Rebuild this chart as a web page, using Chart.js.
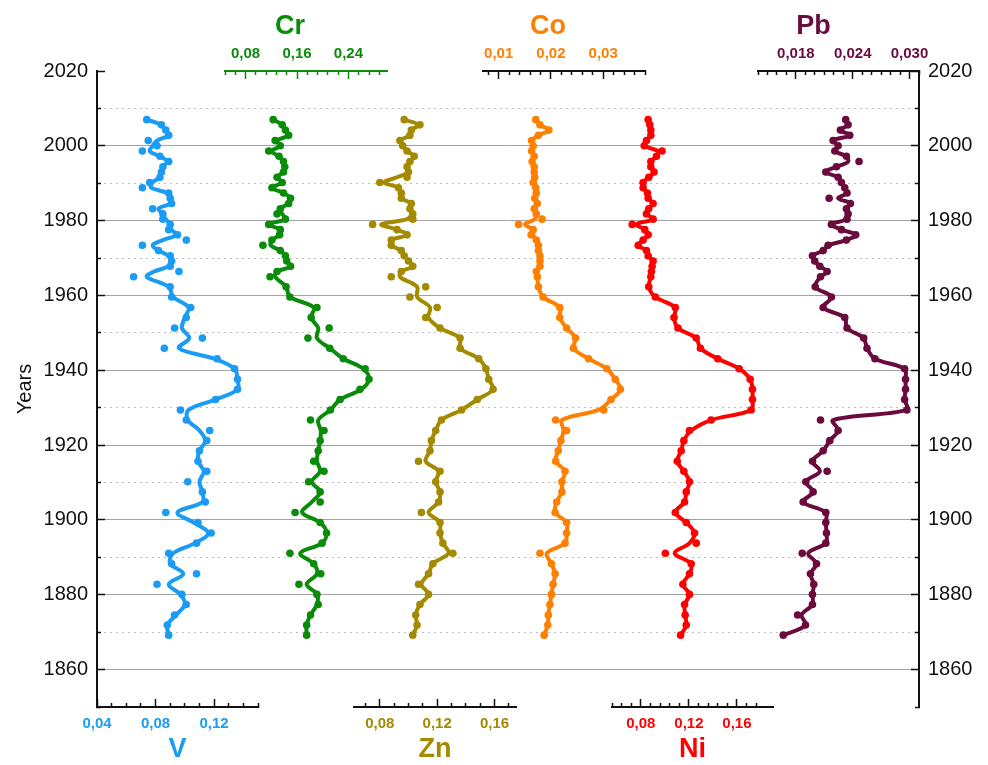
<!DOCTYPE html>
<html>
<head>
<meta charset="utf-8">
<title>Trace metals profile</title>
<script src="https://cdn.jsdelivr.net/npm/chart.js@4.4.1/dist/chart.umd.min.js"></script>
<style>
  html, body { margin: 0; padding: 0; background: #ffffff; }
  #wrap { width: 988px; height: 765px; position: relative; }
</style>
</head>
<body>
<div id="wrap"><canvas id="chart"></canvas></div>
<script>
// Sample years (depth-dated core slices), top to bottom
const YEARS = [2007.0, 2005.6, 2004.2, 2002.8, 2001.4, 2000.0, 1998.6, 1997.2, 1995.8, 1994.4, 1993.0, 1991.6, 1990.2, 1988.8, 1987.4, 1986.0,
  1984.6, 1983.2, 1981.8, 1980.4, 1979.0, 1977.6, 1976.2, 1974.8, 1973.4, 1972.0, 1970.6, 1969.2, 1967.8, 1966.4, 1965.0,
  1962.3, 1959.6, 1956.8, 1954.1, 1951.3, 1948.6, 1945.9, 1943.1, 1940.4, 1937.6, 1934.9, 1932.2, 1929.4, 1926.7, 1923.9, 1921.2,
  1918.5, 1915.7, 1913.0, 1910.2, 1907.5, 1904.8, 1902.0, 1899.3, 1896.5, 1893.8, 1891.1, 1888.3, 1885.6, 1882.8, 1880.1, 1877.4,
  1874.6, 1871.9, 1869.2];

// Measured concentrations (points) and smoothed profiles (curves)
const V_PTS = [0.074, 0.084, 0.087, 0.089, 0.075, 0.081, 0.071, 0.083, 0.089, 0.085, 0.084, 0.083, 0.076, 0.071, 0.089, 0.090,
  0.091, 0.078, 0.085, 0.085, 0.090, 0.089, 0.095, 0.101, 0.071, 0.082, 0.090, 0.091, 0.090, 0.096, 0.065,
  0.090, 0.091, 0.104, 0.101, 0.093, 0.112, 0.086, 0.122, 0.134, 0.136, 0.136, 0.121, 0.097, 0.101, 0.117, 0.115,
  0.110, 0.109, 0.115, 0.102, 0.112, 0.114, 0.087, 0.109, 0.118, 0.108, 0.089, 0.091, 0.108, 0.081, 0.098, 0.101,
  0.093, 0.088, 0.089];
const V_FIT = [0.074, 0.084, 0.087, 0.089, 0.081, 0.078, 0.076, 0.083, 0.088, 0.085, 0.084, 0.083, 0.078, 0.077, 0.088, 0.090,
  0.090, 0.082, 0.085, 0.087, 0.090, 0.091, 0.094, 0.085, 0.078, 0.082, 0.089, 0.091, 0.089, 0.079, 0.074,
  0.089, 0.092, 0.1025, 0.100, 0.098, 0.103, 0.096, 0.120, 0.134, 0.136, 0.136, 0.121, 0.1025, 0.102, 0.110, 0.114,
  0.110, 0.109, 0.113, 0.110, 0.112, 0.112, 0.095, 0.106, 0.116, 0.107, 0.092, 0.090, 0.099, 0.089, 0.097, 0.100,
  0.094, 0.088, 0.089];

const CR_PTS = [0.123, 0.137, 0.142, 0.147, 0.126, 0.134, 0.116, 0.132, 0.139, 0.141, 0.139, 0.129, 0.137, 0.121, 0.139, 0.150,
  0.147, 0.134, 0.129, 0.142, 0.116, 0.134, 0.133, 0.121, 0.107, 0.134, 0.142, 0.144, 0.150, 0.129, 0.118,
  0.143, 0.149, 0.191, 0.182, 0.210, 0.177, 0.211, 0.232, 0.266, 0.272, 0.258, 0.227, 0.212, 0.181, 0.202, 0.196,
  0.193, 0.186, 0.202, 0.178, 0.196, 0.196, 0.157, 0.196, 0.206, 0.199, 0.149, 0.186, 0.197, 0.163, 0.191, 0.193,
  0.181, 0.175, 0.175];
const CR_FIT = [0.123, 0.137, 0.142, 0.147, 0.129, 0.134, 0.120, 0.132, 0.139, 0.141, 0.139, 0.129, 0.137, 0.121, 0.139, 0.150,
  0.147, 0.134, 0.137, 0.142, 0.116, 0.134, 0.133, 0.121, 0.119, 0.134, 0.142, 0.144, 0.150, 0.129, 0.126,
  0.143, 0.149, 0.186, 0.182, 0.193, 0.191, 0.211, 0.232, 0.263, 0.272, 0.260, 0.227, 0.212, 0.193, 0.197, 0.196,
  0.193, 0.191, 0.196, 0.183, 0.196, 0.183, 0.168, 0.196, 0.206, 0.199, 0.165, 0.186, 0.191, 0.175, 0.191, 0.191,
  0.181, 0.175, 0.175];

const ZN_PTS = [0.097, 0.108, 0.102, 0.101, 0.094, 0.096, 0.099, 0.104, 0.101, 0.099, 0.100, 0.099, 0.080, 0.093, 0.095, 0.095,
  0.102, 0.101, 0.103, 0.103, 0.075, 0.092, 0.099, 0.088, 0.088, 0.095, 0.097, 0.100, 0.103, 0.095, 0.088,
  0.112, 0.101, 0.120, 0.112, 0.122, 0.136, 0.136, 0.149, 0.154, 0.156, 0.159, 0.148, 0.137, 0.123, 0.119, 0.116,
  0.115, 0.107, 0.122, 0.119, 0.122, 0.121, 0.109, 0.122, 0.122, 0.124, 0.131, 0.117, 0.114, 0.107, 0.114, 0.108,
  0.105, 0.106, 0.103];
const ZN_FIT = [0.097, 0.107, 0.102, 0.101, 0.094, 0.096, 0.099, 0.104, 0.101, 0.099, 0.100, 0.092, 0.083, 0.093, 0.095, 0.095,
  0.102, 0.101, 0.102, 0.099, 0.081, 0.092, 0.099, 0.088, 0.088, 0.095, 0.097, 0.100, 0.103, 0.095, 0.094,
  0.106, 0.106, 0.115, 0.114, 0.122, 0.136, 0.136, 0.149, 0.154, 0.156, 0.159, 0.148, 0.137, 0.123, 0.119, 0.116,
  0.115, 0.112, 0.121, 0.119, 0.122, 0.121, 0.114, 0.122, 0.122, 0.124, 0.128, 0.117, 0.114, 0.109, 0.114, 0.108,
  0.105, 0.106, 0.103];

const CO_PTS = [0.0171, 0.0179, 0.0196, 0.0176, 0.0163, 0.0166, 0.0163, 0.0168, 0.0164, 0.0168, 0.0168, 0.0169, 0.0166, 0.0171, 0.0172, 0.0169,
  0.0174, 0.0168, 0.0172, 0.0183, 0.0138, 0.0166, 0.0162, 0.0172, 0.0176, 0.0176, 0.0179, 0.0179, 0.0179, 0.0172, 0.0174,
  0.0176, 0.0185, 0.0217, 0.0217, 0.0230, 0.0247, 0.0243, 0.0272, 0.0307, 0.0323, 0.0333, 0.0315, 0.0301, 0.0209, 0.0230, 0.0219,
  0.0214, 0.0209, 0.0227, 0.0221, 0.0221, 0.0211, 0.0208, 0.0230, 0.0230, 0.0227, 0.0179, 0.0201, 0.0208, 0.0204, 0.0201, 0.0198,
  0.0195, 0.0194, 0.0187];
const CO_FIT = [0.0171, 0.0179, 0.0196, 0.0176, 0.0163, 0.0166, 0.0163, 0.0168, 0.0164, 0.0168, 0.0168, 0.0169, 0.0166, 0.0171, 0.0172, 0.0169,
  0.0174, 0.0168, 0.0172, 0.0169, 0.0150, 0.0166, 0.0166, 0.0172, 0.0176, 0.0176, 0.0179, 0.0179, 0.0179, 0.0172, 0.0174,
  0.0176, 0.0185, 0.0217, 0.0217, 0.0230, 0.0247, 0.0243, 0.0272, 0.0307, 0.0323, 0.0333, 0.0315, 0.0291, 0.0221, 0.0224, 0.0219,
  0.0214, 0.0209, 0.0227, 0.0221, 0.0221, 0.0211, 0.0208, 0.0230, 0.0230, 0.0227, 0.0192, 0.0201, 0.0208, 0.0204, 0.0201, 0.0198,
  0.0195, 0.0194, 0.0187];

const NI_PTS = [0.0861, 0.0875, 0.0883, 0.0883, 0.0847, 0.0828, 0.0977, 0.0930, 0.0883, 0.0883, 0.0910, 0.0866, 0.0819, 0.0819, 0.0855, 0.0861,
  0.0902, 0.0866, 0.0847, 0.0902, 0.0728, 0.0833, 0.0861, 0.0819, 0.0778, 0.0847, 0.0861, 0.0902, 0.0894, 0.0888, 0.0883,
  0.0866, 0.0921, 0.1087, 0.1076, 0.1109, 0.1261, 0.1296, 0.1440, 0.1619, 0.1710, 0.1729, 0.1729, 0.1718, 0.1385, 0.1205, 0.1158,
  0.1136, 0.1103, 0.1158, 0.1205, 0.1178, 0.1164, 0.1087, 0.1178, 0.1247, 0.1261, 0.1004, 0.1219, 0.1205, 0.1150, 0.1205, 0.1164,
  0.1169, 0.1178, 0.1131];
const NI_FIT = [0.0861, 0.0875, 0.0883, 0.0883, 0.0847, 0.0828, 0.0943, 0.0930, 0.0883, 0.0883, 0.0910, 0.0866, 0.0819, 0.0819, 0.0855, 0.0861,
  0.0902, 0.0866, 0.0847, 0.0902, 0.0764, 0.0833, 0.0861, 0.0819, 0.0778, 0.0847, 0.0861, 0.0902, 0.0894, 0.0888, 0.0883,
  0.0866, 0.0921, 0.1087, 0.1076, 0.1109, 0.1261, 0.1296, 0.1440, 0.1619, 0.1710, 0.1729, 0.1729, 0.1718, 0.1385, 0.1219, 0.1158,
  0.1136, 0.1103, 0.1158, 0.1205, 0.1178, 0.1164, 0.1087, 0.1178, 0.1247, 0.1205, 0.1081, 0.1219, 0.1205, 0.1150, 0.1205, 0.1164,
  0.1169, 0.1178, 0.1131];

const PB_PTS = [0.02326, 0.02351, 0.02270, 0.02369, 0.02193, 0.02246, 0.02211, 0.02333, 0.02467, 0.02228, 0.02116, 0.02246, 0.02281, 0.02316, 0.02340, 0.02151,
  0.02376, 0.02333, 0.02351, 0.02340, 0.02175, 0.02281, 0.02432, 0.02333, 0.02140, 0.02088, 0.01975, 0.01999, 0.02053, 0.02130, 0.02060,
  0.02004, 0.02175, 0.02088, 0.02316, 0.02340, 0.02516, 0.02551, 0.02635, 0.02948, 0.02958, 0.02958, 0.02948, 0.02972, 0.02060, 0.02246, 0.02158,
  0.02088, 0.01975, 0.02130, 0.01905, 0.01982, 0.01877, 0.02116, 0.02116, 0.02123, 0.02116, 0.01867, 0.02018, 0.01954, 0.01989, 0.01975, 0.01975,
  0.01818, 0.01902, 0.01667];
const PB_FIT = [0.02326, 0.02351, 0.02270, 0.02369, 0.02193, 0.02246, 0.02211, 0.02333, 0.02351, 0.02228, 0.02116, 0.02246, 0.02281, 0.02316, 0.02340, 0.02246,
  0.02376, 0.02333, 0.02351, 0.02340, 0.02175, 0.02281, 0.02432, 0.02333, 0.02140, 0.02088, 0.01975, 0.01999, 0.02053, 0.02130, 0.02060,
  0.02004, 0.02175, 0.02088, 0.02316, 0.02340, 0.02516, 0.02551, 0.02635, 0.02948, 0.02958, 0.02958, 0.02948, 0.02972, 0.02193, 0.02246, 0.02158,
  0.02088, 0.01975, 0.02053, 0.01905, 0.01982, 0.01877, 0.02116, 0.02116, 0.02123, 0.02116, 0.01930, 0.02018, 0.01954, 0.01989, 0.01975, 0.01975,
  0.01860, 0.01902, 0.01667];

// Axis ticks and labelled values
const YEAR_TICKS = [1850, 1860, 1870, 1880, 1890, 1900, 1910, 1920, 1930, 1940, 1950, 1960, 1970, 1980, 1990, 2000, 2010, 2020];
const V_TICKS = [0.04, 0.05, 0.06, 0.07, 0.08, 0.09, 0.10, 0.11, 0.12, 0.13, 0.14, 0.15];
const V_LABELS = [0.04, 0.08, 0.12];
const CR_TICKS = [0.048, 0.064, 0.08, 0.096, 0.112, 0.128, 0.144, 0.16, 0.176, 0.192, 0.208, 0.224, 0.24, 0.256, 0.272, 0.288];
const CR_LABELS = [0.08, 0.16, 0.24];
const ZN_TICKS = [0.07, 0.08, 0.09, 0.10, 0.11, 0.12, 0.13, 0.14, 0.15, 0.16, 0.17];
const ZN_LABELS = [0.08, 0.12, 0.16];
const CO_TICKS = [0.008, 0.01, 0.012, 0.014, 0.016, 0.018, 0.02, 0.022, 0.024, 0.026, 0.028, 0.03, 0.032, 0.034, 0.036, 0.038];
const CO_LABELS = [0.01, 0.02, 0.03];
const NI_TICKS = [0.056, 0.064, 0.072, 0.08, 0.088, 0.096, 0.104, 0.112, 0.12, 0.128, 0.136, 0.144, 0.152, 0.16, 0.168, 0.176];
const NI_LABELS = [0.08, 0.12, 0.16];
const PB_TICKS = [0.014, 0.015, 0.016, 0.017, 0.018, 0.019, 0.020, 0.021, 0.022, 0.023, 0.024, 0.025, 0.026, 0.027, 0.028, 0.029, 0.030, 0.031];
const PB_LABELS = [0.018, 0.024, 0.030];

const FONT = "'Liberation Sans', Arial, Helvetica, sans-serif";
const INK = '#111111';
const TOP_BAND = 71;      // height of the upper axis row
const BOTTOM_BAND = 58;   // height of the lower axis row

const near = (a, b) => Math.abs(a - b) < 1e-9;
const fmt = (v, d) => v.toFixed(d).replace('.', ',');

// Element panels: each gets its own partial-width x axis placed side by side
const PANELS = [
  { name: 'V',  axis: 'xV',  color: '#1a9bf4', axisColor: INK,       position: 'bottom', order: 1, span: 161, min: 0.04,  max: 0.15,  ticks: V_TICKS,  labels: V_LABELS,  digits: 2, pts: V_PTS,  fit: V_FIT },
  { name: 'Zn', axis: 'xZn', color: '#a38a00', axisColor: INK,       position: 'bottom', order: 3, span: 162, min: 0.062, max: 0.175, ticks: ZN_TICKS, labels: ZN_LABELS, digits: 2, pts: ZN_PTS, fit: ZN_FIT },
  { name: 'Ni', axis: 'xNi', color: '#ff0000', axisColor: INK,       position: 'bottom', order: 5, span: 161, min: 0.056, max: 0.19,  ticks: NI_TICKS, labels: NI_LABELS, digits: 2, pts: NI_PTS, fit: NI_FIT },
  { name: 'Cr', axis: 'xCr', color: '#0a8c0a', axisColor: '#0a8c0a', position: 'top',    order: 5, span: 162, min: 0.048, max: 0.30,  ticks: CR_TICKS, labels: CR_LABELS, digits: 2, pts: CR_PTS, fit: CR_FIT, shift: -16 },
  { name: 'Co', axis: 'xCo', color: '#ff7f00', axisColor: INK,       position: 'top',    order: 3, span: 162, min: 0.007, max: 0.038, ticks: CO_TICKS, labels: CO_LABELS, digits: 2, pts: CO_PTS, fit: CO_FIT, shift: -16 },
  { name: 'Pb', axis: 'xPb', color: '#6b0a3c', axisColor: INK,       position: 'top',    order: 1, span: 161, min: 0.014, max: 0.031, ticks: PB_TICKS, labels: PB_LABELS, digits: 3, pts: PB_PTS, fit: PB_FIT, shift: -25 }
];

// Empty slots between the panel axes in each row
const GAPS = [
  { id: 'gapB1', position: 'bottom', order: 2, span: 96 },
  { id: 'gapB2', position: 'bottom', order: 4, span: 96 },
  { id: 'gapB3', position: 'bottom', order: 6, span: 146 },
  { id: 'gapT1', position: 'top', order: 6, span: 128 },
  { id: 'gapT2', position: 'top', order: 4, span: 96 },
  { id: 'gapT3', position: 'top', order: 2, span: 113 }
];

const rowHeight = position => position === 'top' ? TOP_BAND : BOTTOM_BAND;

function panelAxis(p) {
  const top = p.position === 'top';
  const isLabel = v => p.labels.some(l => near(l, v));
  return {
    type: 'linear', position: p.position, stack: top ? 'upperRow' : 'lowerRow',
    stackWeight: p.span, weight: p.order, min: p.min, max: p.max,
    afterBuildTicks: s => { s.ticks = p.ticks.map(v => ({ value: v })); },
    afterFit: s => { s.height = rowHeight(p.position); },
    border: { display: true, color: p.axisColor, width: 2 },
    grid: {
      display: true, drawOnChartArea: false, drawTicks: true, tickLength: -8,
      tickWidth: 1.5, tickColor: p.axisColor,
      tickBorderDash: c => (c.tick && isLabel(c.tick.value)) ? [] : (top ? [0, 4, 5, 40] : [5, 40])
    },
    ticks: {
      autoSkip: false, maxRotation: 0, minRotation: 0, padding: 16, color: p.color,
      font: { family: FONT, size: 15, weight: 'bold' },
      callback: v => isLabel(v) ? fmt(v, p.digits) : ''
    },
    title: top ? { display: false } : {
      display: true, text: p.name, color: p.color, padding: 0,
      font: { family: FONT, size: 27, weight: 'bold', lineHeight: '30px' }
    }
  };
}

function gapAxis(g) {
  return {
    type: 'linear', position: g.position, stack: g.position === 'top' ? 'upperRow' : 'lowerRow',
    stackWeight: g.span, weight: g.order, min: 0, max: 1,
    afterFit: s => { s.height = rowHeight(g.position); },
    border: { display: false }, grid: { display: false }, ticks: { display: false }
  };
}

function yearAxis(position) {
  const left = position === 'left';
  const major = c => c.tick && c.tick.value % 20 === 0;
  return {
    type: 'linear', position, min: 1850, max: 2020,
    afterBuildTicks: s => { s.ticks = YEAR_TICKS.map(v => ({ value: v })); },
    afterFit: s => { s.width = left ? 97 : 69; },
    border: { display: true, color: INK, width: 2, dash: c => (c.tick && !major(c)) ? [2, 4] : [] },
    grid: {
      display: true, drawOnChartArea: left, drawTicks: true, tickLength: -8,
      tickWidth: 1.5, tickColor: INK, lineWidth: 1,
      color: c => {
        if (!c.tick || c.tick.value === 1850 || c.tick.value === 2020) return 'rgba(0,0,0,0)';
        return major(c) ? '#a3a3a3' : '#bdbdbd';
      },
      tickBorderDash: c => major(c) ? [] : (left ? [0, 4, 5, 40] : [5, 40])
    },
    ticks: {
      color: INK, padding: 17, font: { family: FONT, size: 20 },
      callback: v => (v % 20 === 0 && v >= 1860) ? String(v) : ''
    },
    title: left ? {
      display: true, text: 'Years', color: INK, padding: { top: 13, bottom: 0 },
      font: { family: FONT, size: 20, lineHeight: 1.2 }
    } : { display: false }
  };
}

const scales = { y: yearAxis('left'), y2: yearAxis('right') };
PANELS.forEach(p => { scales[p.axis] = panelAxis(p); });
GAPS.forEach(g => { scales[g.id] = gapAxis(g); });

const datasets = [];
PANELS.forEach(p => {
  datasets.push({
    label: p.name + ' smoothed',
    data: YEARS.map((y, i) => ({ x: p.fit[i], y })),
    xAxisID: p.axis, yAxisID: 'y',
    showLine: true, tension: 0.35, borderColor: p.color, borderWidth: 4,
    borderJoinStyle: 'round', borderCapStyle: 'round', pointRadius: 0, fill: false
  });
  datasets.push({
    label: p.name,
    data: YEARS.map((y, i) => ({ x: p.pts[i], y })),
    xAxisID: p.axis, yAxisID: 'y',
    showLine: false, pointRadius: 3.8, pointBorderWidth: 0,
    pointBackgroundColor: p.color, backgroundColor: p.color, borderColor: p.color
  });
});

// Element names above the upper axis row
const upperTitles = {
  id: 'upperTitles',
  afterDraw(chart) {
    const ctx = chart.ctx;
    ctx.save();
    ctx.font = 'bold 27px ' + FONT;
    ctx.textAlign = 'center';
    ctx.textBaseline = 'middle';
    PANELS.filter(p => p.position === 'top').forEach(p => {
      const s = chart.scales[p.axis];
      ctx.fillStyle = p.color;
      ctx.fillText(p.name, (s.left + s.right) / 2 + p.shift, 27);
    });
    ctx.restore();
  }
};

new Chart(document.getElementById('chart'), {
  type: 'scatter',
  data: { datasets },
  options: {
    responsive: true, maintainAspectRatio: false, animation: false, events: [],
    layout: { padding: 0 },
    plugins: { legend: { display: false }, tooltip: { enabled: false } },
    scales
  },
  plugins: [upperTitles]
});
</script>
</body>
</html>
